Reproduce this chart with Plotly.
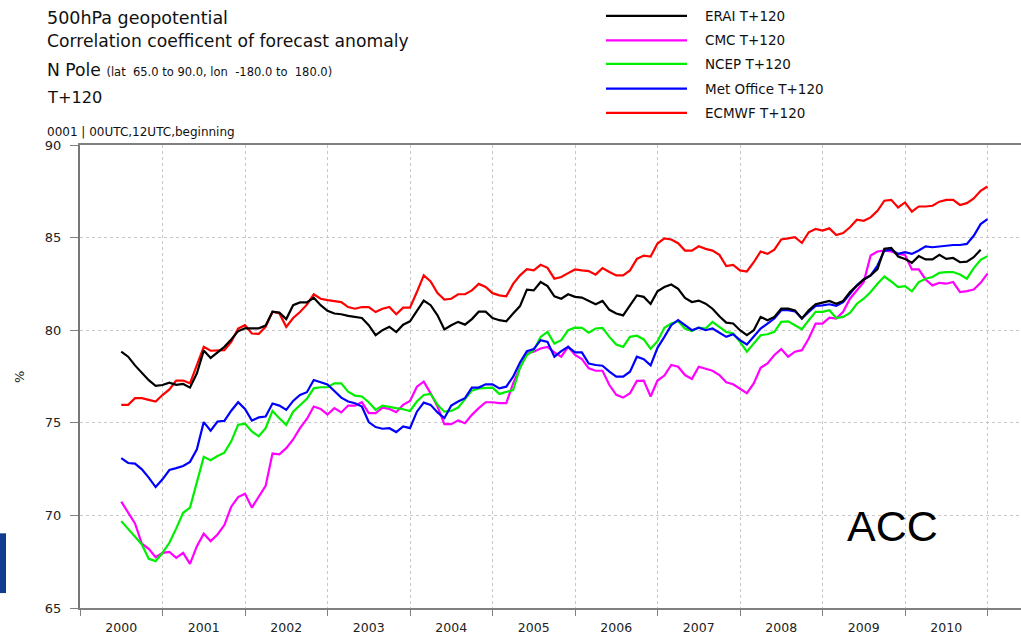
import plotly.graph_objects as go

# ---------------- data (monthly, first value = Jul 2000) ----------------
start_year = 2000.5          # decimal-year position of the first monthly value
year_labels = [2000, 2001, 2002, 2003, 2004, 2005, 2006, 2007, 2008, 2009, 2010]
y_ticks = [65, 70, 75, 80, 85, 90]

erai = [
    78.84, 78.57, 78.10, 77.67, 77.30, 77.00, 77.04, 77.17, 77.05, 77.10,
    76.90, 77.67, 78.90, 78.50, 78.80, 79.10, 79.50, 79.95, 80.10, 80.10,
    80.10, 80.25, 81.00, 80.95, 80.60, 81.35, 81.50, 81.50, 81.75, 81.35,
    81.05, 80.90, 80.86, 80.77, 80.73, 80.66, 80.27, 79.73, 80.00, 80.18,
    79.90, 80.30, 80.48, 81.07, 81.60, 81.35, 80.80, 80.04, 80.27, 80.45,
    80.30, 80.60, 81.00, 81.00, 80.66, 80.54, 80.48, 80.90, 81.30, 82.19,
    82.15, 82.60, 82.38, 81.83, 81.70, 81.94, 81.80, 81.76, 81.58, 81.40,
    81.58, 81.10, 80.90, 80.80, 81.34, 81.88, 81.80, 81.42, 82.10, 82.33,
    82.47, 82.24, 81.74, 81.52, 81.60, 81.43, 81.16, 80.75, 80.41, 80.36,
    80.00, 79.73, 80.00, 80.72, 80.54, 80.72, 81.16, 81.16, 81.07, 80.63,
    81.07, 81.40, 81.49, 81.58, 81.43, 81.58, 82.06, 82.42, 82.74, 82.96,
    83.30, 84.40, 84.44, 83.98, 83.85, 83.64, 84.00, 83.82, 83.82, 84.07,
    83.85, 83.90, 83.67, 83.70, 83.94, 84.35,
]
cmc = [
    70.74, 70.18, 69.57, 68.47, 68.19, 67.74, 67.98, 68.03, 67.71, 67.98,
    67.38, 68.34, 69.01, 68.61, 68.97, 69.48, 70.47, 70.99, 71.17, 70.42,
    70.99, 71.59, 73.34, 73.30, 73.63, 74.10, 74.71, 75.21, 75.88, 75.75,
    75.45, 75.79, 75.56, 75.93, 75.93, 76.11, 75.52, 75.52, 75.82, 75.75,
    75.57, 75.97, 76.18, 76.95, 77.22, 76.59, 75.88, 74.93, 74.93, 75.13,
    74.98, 75.43, 75.79, 76.11, 76.11, 76.06, 76.06, 77.13, 77.97, 78.75,
    78.84, 79.01, 79.10, 78.80, 78.57, 79.10, 78.66, 78.44, 77.94, 77.81,
    77.81, 77.04, 76.51, 76.36, 76.60, 77.26, 77.28, 76.42, 77.28, 77.55,
    78.12, 78.03, 77.58, 77.37, 78.03, 77.90, 77.81, 77.58, 77.19, 77.08,
    76.86, 76.60, 77.13, 77.97, 78.21, 78.66, 78.98, 78.57, 78.84, 78.92,
    79.55, 80.36, 80.36, 80.68, 80.63, 80.99, 81.70, 82.15, 82.60, 84.03,
    84.25, 84.30, 84.25, 84.12, 84.07, 83.28, 83.28, 82.74, 82.42, 82.56,
    82.51, 82.60, 82.06, 82.11, 82.20, 82.56, 83.05,
]
ncep = [
    69.69, 69.28, 68.86, 68.43, 67.65, 67.53, 67.98, 68.52, 69.30, 70.14,
    70.42, 71.77, 73.16, 72.98, 73.21, 73.39, 74.00, 74.89, 74.95, 74.53,
    74.27, 74.71, 75.64, 75.25, 74.89, 75.60, 75.97, 76.29, 76.86, 76.92,
    76.92, 77.13, 77.13, 76.68, 76.47, 76.42, 76.11, 75.70, 75.93, 75.88,
    75.79, 75.73, 75.64, 76.15, 76.50, 76.56, 75.97, 75.60, 75.64, 75.82,
    76.29, 76.74, 76.86, 76.86, 76.90, 76.56, 76.68, 76.77, 77.97, 78.66,
    78.92, 79.64, 79.91, 79.28, 79.46, 80.00, 80.14, 80.13, 79.87, 80.09,
    80.13, 79.64, 79.23, 79.10, 79.64, 79.70, 79.50, 79.00, 79.41, 80.13,
    80.36, 80.48, 80.09, 79.95, 80.14, 80.09, 80.45, 80.18, 79.91, 79.82,
    79.37, 78.84, 79.28, 79.73, 79.78, 79.91, 80.45, 80.48, 80.27, 80.05,
    80.54, 80.99, 80.99, 81.08, 80.66, 80.72, 80.93, 81.43, 81.70, 82.06,
    82.51, 82.90, 82.63, 82.33, 82.38, 82.10, 82.60, 82.78, 82.87, 83.10,
    83.14, 83.14, 83.01, 82.78, 83.35, 83.80, 84.00,
]
met_office = [
    73.09, 72.83, 72.80, 72.49, 72.04, 71.53, 71.95, 72.45, 72.55, 72.67,
    72.89, 73.57, 75.04, 74.57, 75.07, 75.10, 75.65, 76.11, 75.75, 75.12,
    75.29, 75.34, 76.04, 75.93, 75.70, 76.18, 76.50, 76.65, 77.31, 77.17,
    77.07, 76.72, 76.36, 76.15, 76.06, 75.88, 75.04, 74.77, 74.68, 74.71,
    74.50, 74.80, 74.71, 75.60, 76.09, 75.97, 75.56, 75.25, 75.93, 76.15,
    76.33, 76.90, 76.90, 77.08, 77.08, 76.86, 76.95, 77.49, 78.26, 78.87,
    78.98, 79.46, 79.37, 78.57, 78.87, 79.10, 78.80, 78.80, 78.20, 78.12,
    78.08, 77.76, 77.49, 77.49, 77.76, 78.57, 78.44, 78.10, 79.05, 79.64,
    80.27, 80.54, 80.27, 80.00, 80.14, 80.00, 80.09, 79.87, 79.64, 79.78,
    79.46, 79.23, 79.64, 80.09, 80.36, 80.63, 81.08, 81.08, 81.02, 80.63,
    80.99, 81.31, 81.34, 81.40, 81.31, 81.52, 81.97, 82.42, 82.74, 82.96,
    83.49, 84.30, 84.35, 84.12, 84.21, 84.12, 84.30, 84.53, 84.48, 84.53,
    84.57, 84.60, 84.60, 84.66, 85.10, 85.73, 86.00,
]
ecmwf = [
    75.97, 75.97, 76.33, 76.33, 76.24, 76.15, 76.50, 76.80, 77.28, 77.28,
    77.13, 78.08, 79.10, 78.89, 78.92, 78.92, 79.37, 80.09, 80.27, 79.82,
    79.80, 80.18, 81.00, 80.90, 80.18, 80.66, 80.98, 81.38, 81.94, 81.70,
    81.62, 81.58, 81.52, 81.25, 81.16, 81.25, 81.25, 80.98, 81.16, 81.25,
    80.86, 81.22, 81.22, 82.06, 82.96, 82.63, 82.00, 81.65, 81.70, 81.94,
    81.94, 82.15, 82.50, 82.33, 82.00, 81.88, 81.83, 82.50, 82.96, 83.30,
    83.23, 83.53, 83.37, 82.78, 82.87, 83.08, 83.28, 83.23, 83.19, 83.00,
    83.35, 83.14, 82.96, 82.96, 83.23, 83.85, 84.03, 83.98, 84.68, 84.96,
    84.90, 84.70, 84.30, 84.30, 84.53, 84.39, 84.30, 84.07, 83.46, 83.53,
    83.23, 83.17, 83.67, 84.25, 84.12, 84.35, 84.90, 84.96, 85.02, 84.71,
    85.29, 85.47, 85.38, 85.50, 85.14, 85.25, 85.56, 85.97, 85.91, 86.09,
    86.45, 86.99, 87.04, 86.63, 86.90, 86.40, 86.68, 86.68, 86.72, 86.94,
    87.04, 87.04, 86.76, 86.86, 87.11, 87.53, 87.76,
]

series_names = ["ERAI T+120", "CMC T+120", "NCEP T+120", "Met Office T+120", "ECMWF T+120"]
series_values = [erai, cmc, ncep, met_office, ecmwf]
series_colors = ["#000000", "#ff00ff", "#00ee00", "#0000ff", "#ff0000"]

# ---------------- geometry helpers (pixel -> paper) ----------------
W, H = 1021, 635
L, R, T, B = 80, 0, 145, 25
PW, PH = W - L - R, H - T - B


def px(x):
    return (x - L) / PW


def py(y):
    return (H - B - y) / PH


FONT = "DejaVu Sans"

fig = go.Figure()
for i in [1, 2, 3, 4, 0]:
    vals = series_values[i]
    xs = [start_year + k / 12 for k in range(len(vals))]
    fig.add_trace(go.Scatter(x=xs, y=vals, mode="lines", name=series_names[i],
                             line=dict(color=series_colors[i], width=2.2),
                             showlegend=False))

x_end = 2000 + PW / 82.5

fig.update_layout(
    width=W, height=H,
    margin=dict(l=L, r=R, t=T, b=B),
    paper_bgcolor="white", plot_bgcolor="white",
    showlegend=False,
    xaxis=dict(
        range=[2000, x_end],
        tickmode="array",
        tickvals=[y + 0.5 for y in year_labels],
        ticktext=[str(y) for y in year_labels],
        ticks="outside", ticklen=7, tickcolor="rgba(0,0,0,0)",
        showgrid=False, zeroline=False,
        showline=True, linecolor="#808080", linewidth=1.5, mirror=True,
        tickfont=dict(family=FONT, size=12.5, color="#222"),
        minor=dict(tickmode="array", tickvals=list(range(2000, 2012)),
                   ticks="outside", ticklen=6, tickcolor="#808080",
                   showgrid=True, gridcolor="#c8c8c8", griddash="dot", gridwidth=1),
    ),
    yaxis=dict(
        range=[65, 90],
        tickmode="array", tickvals=y_ticks,
        ticks="outside", ticklen=8, tickcolor="#808080",
        showgrid=True, gridcolor="#c8c8c8", griddash="dot", gridwidth=1,
        zeroline=False, showline=True, linecolor="#777777", linewidth=2,
        tickfont=dict(family=FONT, size=13, color="#222"),
        ticklabelstandoff=6,
    ),
)

annotations = []
shapes = []

# title block
title_lines = [
    ("500hPa geopotential", 17.0, 17.5),
    ("Correlation coefficent of forecast anomaly", 41.0, 17.2),
    ("N Pole <span style='font-size:11.5px'>(lat  65.0 to 90.0, lon  -180.0 to  180.0)</span>", 69.5, 17.2),
    ("T+120", 97.0, 16.2),
    ("0001 | 00UTC,12UTC,beginning", 132.0, 12),
]
for txt, ycen, size in title_lines:
    annotations.append(dict(text=txt, xref="paper", yref="paper", x=px(45), y=py(ycen),
                            xanchor="left", yanchor="middle", showarrow=False,
                            font=dict(family=FONT, size=size, color="#111")))

# legend (drawn manually)
legend_rows = [15.3, 40.0, 63.5, 88.3, 112.7]
for name, color, yrow in zip(series_names, series_colors, legend_rows):
    shapes.append(dict(type="line", xref="paper", yref="paper",
                       x0=px(606), x1=px(687), y0=py(yrow), y1=py(yrow),
                       line=dict(color=color, width=2.2)))
    annotations.append(dict(text=name, xref="paper", yref="paper", x=px(703), y=py(yrow),
                            xanchor="left", yanchor="middle", showarrow=False,
                            font=dict(family=FONT, size=13.5, color="#111")))

# y-axis unit label
annotations.append(dict(text="%", xref="paper", yref="paper", x=px(20), y=py(378),
                        xanchor="center", yanchor="middle", textangle=-90, showarrow=False,
                        font=dict(family=FONT, size=13, color="#222")))

# ACC label
annotations.append(dict(text="ACC", xref="paper", yref="paper", x=px(892), y=py(528),
                        xanchor="center", yanchor="middle", showarrow=False,
                        font=dict(family="Liberation Sans", size=43, color="#000")))

# blue side bar
shapes.append(dict(type="rect", xref="paper", yref="paper",
                   x0=px(0), x1=px(6), y0=py(595), y1=py(535),
                   fillcolor="#103c8f", line=dict(width=0)))

fig.update_layout(annotations=annotations, shapes=shapes)
fig.write_html("out.html",
               config={"displayModeBar": False},
               post_script="document.body.style.margin='0';document.body.style.overflow='hidden';")
